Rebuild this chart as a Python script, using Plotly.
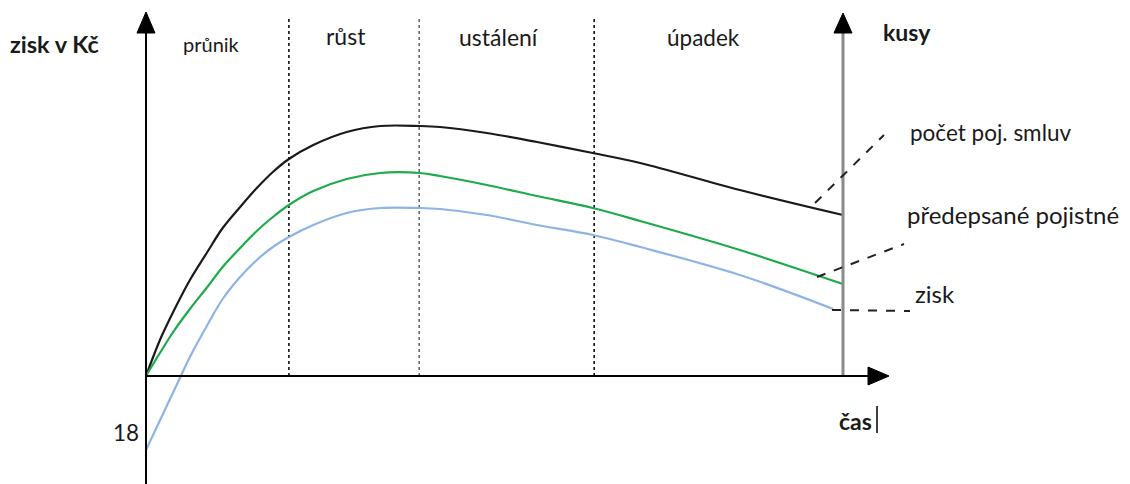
import plotly.graph_objects as go

# ---- data (time in % of the product life cycle, values in arbitrary units) ----
t_black = [0, 2.0, 3.9, 6.3, 8.8, 11.0, 13.5, 15.9, 18.2, 20.5, 24.0, 28.8, 33.6, 39.3, 42.2,
           48.9, 56.1, 64.1, 70.9, 85.2, 100]
v_black = [0, 36, 64, 96, 124, 148, 169, 188, 204, 217, 231, 244, 250, 250, 249,
           243, 234, 223, 213, 186, 161]

t_green = [0, 2.0, 3.9, 6.3, 8.8, 11.0, 13.5, 15.9, 18.2, 20.5, 24.0, 28.8, 33.6, 39.3, 42.2,
           48.9, 56.1, 64.1, 70.9, 85.2, 100]
v_green = [0, 23, 44, 67, 89, 109, 128, 145, 159, 171, 185, 197, 203, 203, 200,
           191, 180, 168, 155, 126, 92]

t_blue = [0, 5.0, 6.3, 8.8, 11.0, 13.5, 15.9, 18.2, 20.5, 24.0, 28.8, 33.6, 39.3, 42.2,
          48.9, 56.1, 64.1, 70.9, 85.2, 98.6]
v_blue = [-74, 0, 19, 51, 77, 99, 116, 129, 139, 151, 163, 168, 168, 167,
          161, 151, 141, 129, 101, 67]

phase_bounds = [20.5, 39.2, 64.3]
phase_labels = ["průnik", "růst", "ustálení", "úpadek"]
series_labels = ["počet poj. smluv", "předepsané pojistné", "zisk"]

# ---- geometry helpers (page pixels -> data units) ----
W, H = 1130, 484
X0, X100 = 146, 843          # pixel positions of t=0 and t=100
Y0 = 376                     # pixel position of value 0
PPT = (X100 - X0) / 100.0


def tx(px):
    return (px - X0) / PPT


def vy(py):
    return Y0 - py


FONT = "Lato"

fig = go.Figure()

curves = [
    (t_black, v_black, "#1a1a1a", 2.2),
    (t_green, v_green, "#1faa4a", 2.2),
    (t_blue, v_blue, "#8db4e6", 2.2),
]
for t, v, c, w in curves:
    fig.add_trace(go.Scatter(x=t, y=v, mode="lines",
                             line=dict(color=c, width=w, shape="spline", smoothing=1.0),
                             hoverinfo="skip", showlegend=False))

shapes = []
# phase dotted lines
for i, b in enumerate(phase_bounds):
    shapes.append(dict(type="line", x0=b, x1=b, y0=0, y1=vy(16), xref="x", yref="y",
                       line=dict(color="#666666" if i == 1 else "#111111", width=1.6, dash="dot"),
                       layer="below"))

# left axis
shapes.append(dict(type="line", x0=0, x1=0, y0=vy(484), y1=vy(30), line=dict(color="black", width=2)))
shapes.append(dict(type="path", path=f"M {tx(146)} {vy(12)} L {tx(137)} {vy(33)} L {tx(155)} {vy(33)} Z",
                   fillcolor="black", line=dict(color="black", width=1)))
# right axis (kusy)
shapes.append(dict(type="line", x0=100, x1=100, y0=0, y1=vy(30), line=dict(color="#8a8a8a", width=3)))
shapes.append(dict(type="path", path=f"M {tx(843)} {vy(13)} L {tx(834)} {vy(33)} L {tx(852)} {vy(33)} Z",
                   fillcolor="black", line=dict(color="black", width=1)))
# x axis
shapes.append(dict(type="line", x0=0, x1=tx(872), y0=0, y1=0, line=dict(color="black", width=2)))
shapes.append(dict(type="path", path=f"M {tx(889)} {vy(376)} L {tx(868)} {vy(367)} L {tx(868)} {vy(385)} Z",
                   fillcolor="black", line=dict(color="black", width=1)))
# leader dashed lines
leaders = [((815, 203), (884, 135)), ((817, 277), (904, 244)), ((832, 310), (910, 311))]
for (a, b) in leaders:
    shapes.append(dict(type="line", x0=tx(a[0]), y0=vy(a[1]), x1=tx(b[0]), y1=vy(b[1]),
                       line=dict(color="#222222", width=2, dash="dash")))

ann = []


def text(s, px, py, size, bold=False, anchor="left", color="#1a1a1a"):
    ann.append(dict(x=tx(px), y=vy(py), text=f"<b>{s}</b>" if bold else s, showarrow=False,
                    xanchor=anchor, yanchor="middle", font=dict(family=FONT, size=size, color=color)))


text("zisk v Kč", 8, 44, 23.5, bold=True)
text(phase_labels[0], 211, 44, 20, anchor="center")
text(phase_labels[1], 346, 36, 23, anchor="center")
text(phase_labels[2], 499, 37, 23, anchor="center")
text(phase_labels[3], 703, 37, 22.5, anchor="center")
text("kusy", 881, 32, 23, bold=True)
text(series_labels[0], 908, 132, 22.5)
text(series_labels[1], 905, 214, 24)
text(series_labels[2], 913, 293, 24)
text("čas", 837, 421, 23, bold=True)
text("18", 111, 432, 22.5)
# text cursor after "čas"
shapes.append(dict(type="line", x0=tx(877), x1=tx(877), y0=vy(406), y1=vy(433),
                   line=dict(color="black", width=1.5)))

fig.update_layout(
    width=W, height=H, margin=dict(l=0, r=0, t=0, b=0),
    paper_bgcolor="white", plot_bgcolor="white",
    xaxis=dict(range=[tx(0), tx(W)], visible=False, fixedrange=True),
    yaxis=dict(range=[vy(H), vy(0)], visible=False, fixedrange=True),
    shapes=shapes, annotations=ann, showlegend=False,
)

fig.write_html("out.html")
